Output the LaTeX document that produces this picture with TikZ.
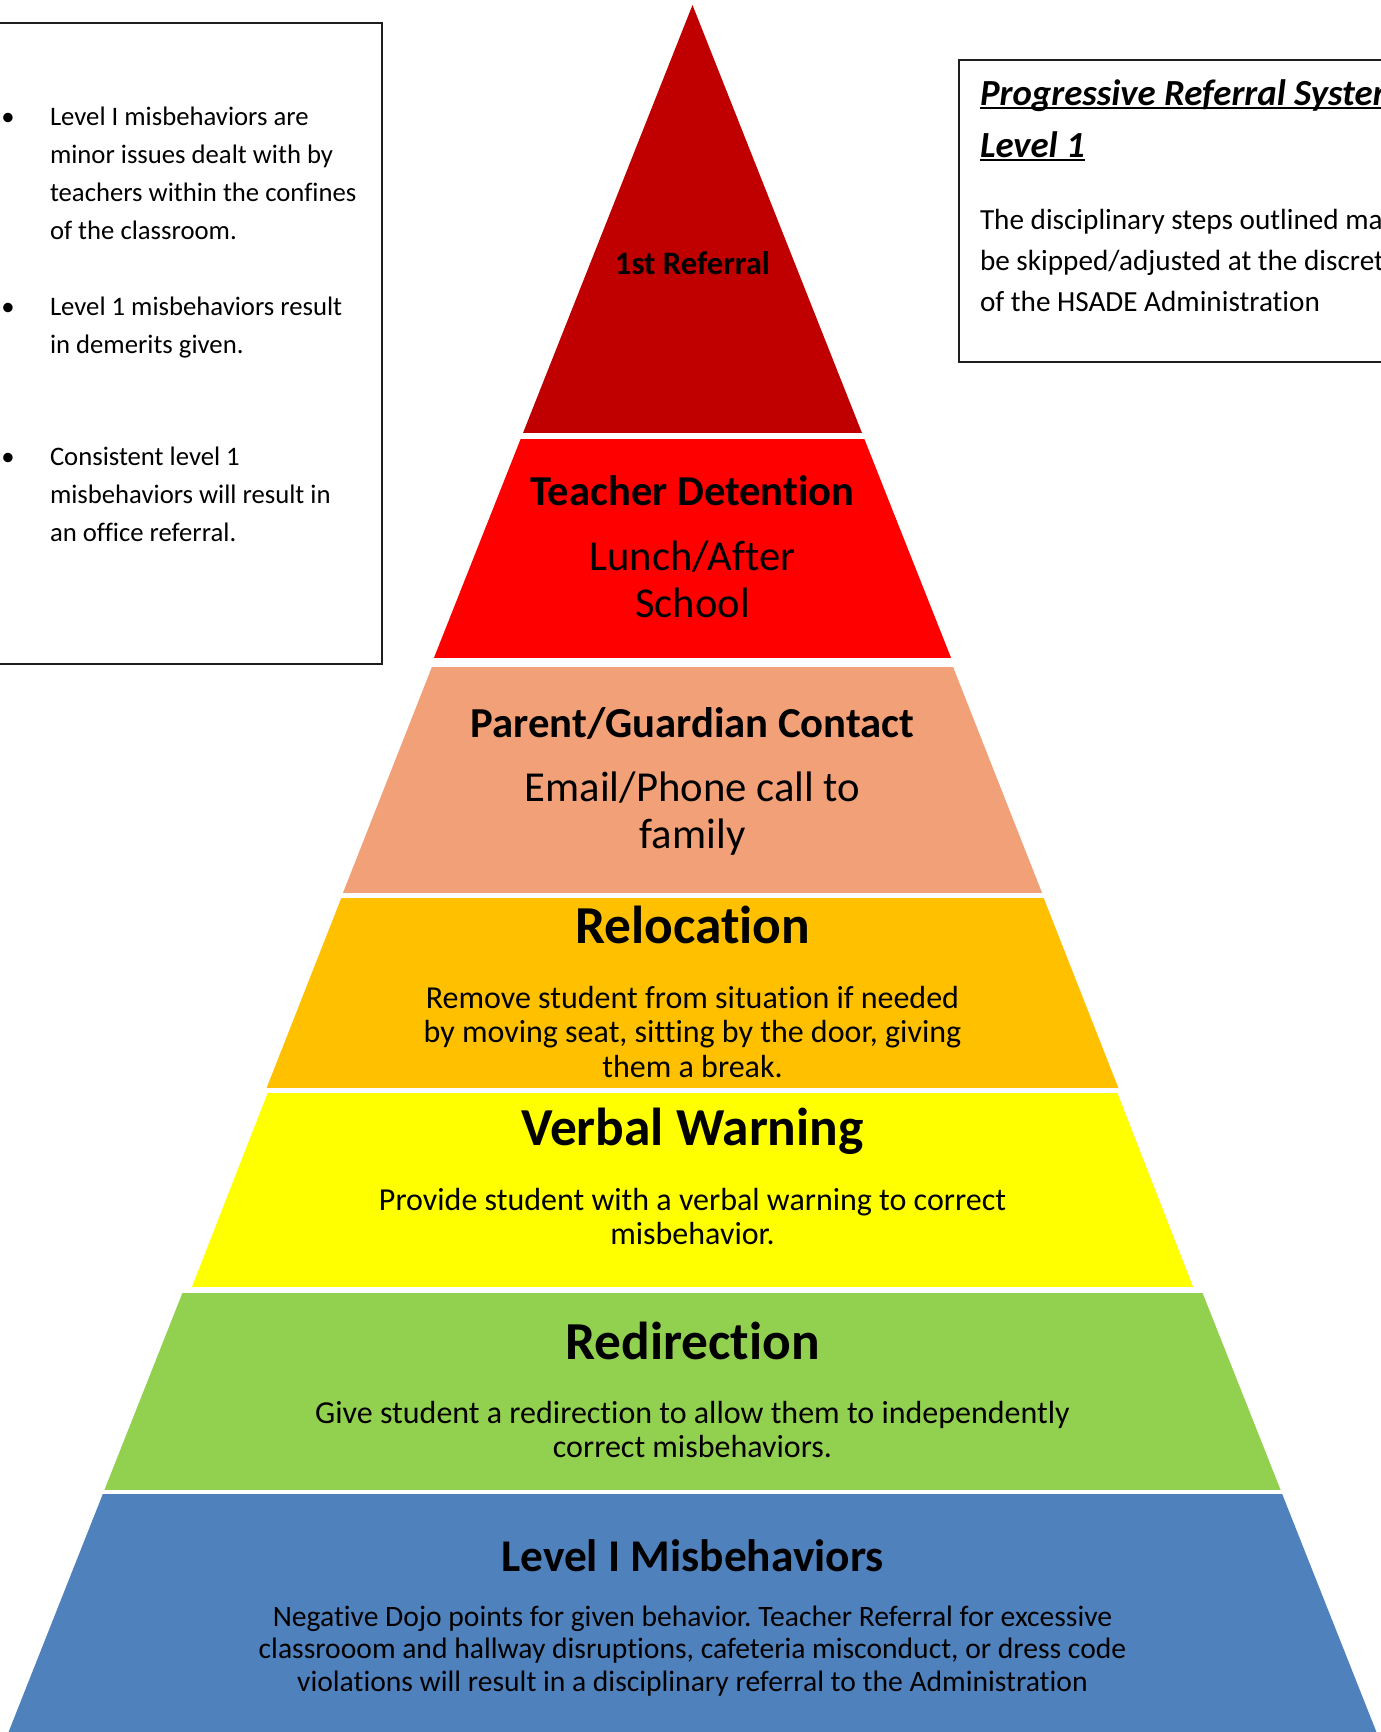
\documentclass[tikz,border=0pt]{standalone}
\usepackage{fontspec}
\setmainfont{Carlito}[Ligatures={NoCommon}]
\frenchspacing
\newcommand\fsz[2]{\fontsize{#1}{#2}\selectfont}
\definecolor{lvA}{HTML}{C00000}
\definecolor{lvB}{HTML}{FF0000}
\definecolor{lvC}{HTML}{F2A077}
\definecolor{lvD}{HTML}{FFC000}
\definecolor{lvE}{HTML}{FFFF00}
\definecolor{lvF}{HTML}{92D050}
\definecolor{lvG}{HTML}{4F81BD}
\definecolor{frame}{HTML}{1E1E1E}
\begin{document}
\begin{tikzpicture}[x=1pt,y=-1pt,
  every node/.style={inner sep=0pt,outer sep=0pt,text=black},
  % multi-line nodes: the base anchor sits on the last line
  bandhead/.style={anchor=base,align=center,font=\bfseries},
  bandtext/.style={anchor=base,align=center},
  sidebox/.style={draw=frame,line width=1.8pt},
  bullettext/.style={anchor=base west,align=left,font=\fsz{26.7}{38}},
  bulletdot/.style={anchor=base,font=\fsz{26.7}{38}}]
\useasboundingbox (0,0) rectangle (1381,1732);
\clip (0,0) rectangle (1381,1732);
\fill[white] (0,0) rectangle (1381,1732);

% pyramid: one triangle cut into horizontal bands (slight per-band width factor)
\coordinate (apex) at (692.5,5);
\coordinate (bl) at (5.4,1740);
\coordinate (br) at (1379.6,1740);
\foreach \top/\bot/\col/\wf in {0/432/lvA/1, 439/657/lvB/1, 667/892/lvC/0.994,
                                898/1087/lvD/0.993, 1093/1286/lvE/0.986,
                                1293/1489/lvF/1, 1494/1740/lvG/1}{
  \begin{scope}
    \clip (0,\top) rectangle (1381,\bot);
    \begin{scope}[shift={(692.5,0)},xscale=\wf,shift={(-692.5,0)}]
      \fill[\col] (692.5,5) -- (5.4,1740) -- (1379.6,1740) -- cycle;
    \end{scope}
  \end{scope}
}

% band labels
\node[bandhead,font=\fsz{32.7}{36}\bfseries] (ref) at (692.5,274) {1st Referral};

\node[bandhead,font=\fsz{42.6}{47}\bfseries] (det) at (692.5,505) {Teacher Detention};
\node[bandtext,font=\fsz{42.6}{47}] (detx) at (692.5,617) {Lunch/After\\School};

\node[bandhead,font=\fsz{42.7}{47}\bfseries] (par) at (692.5,737) {Parent/Guardian Contact};
\node[bandtext,font=\fsz{42.7}{47}] (parx) at (692.5,848) {Email/Phone call to\\family};

\node[bandhead,font=\fsz{53.4}{58}\bfseries] (rel) at (692.5,943) {Relocation};
\node[bandtext,font=\fsz{32}{34.6}] (relx) at (692.5,1077.2)
  {Remove student from situation if needed\\by moving seat, sitting by the door, giving\\them a break.};

\node[bandhead,font=\fsz{53.4}{58}\bfseries] (ver) at (692.5,1145) {Verbal Warning};
\node[bandtext,font=\fsz{32}{34.6}] (verx) at (692.5,1244.6)
  {Provide student with a verbal warning to correct\\misbehavior.};

\node[bandhead,font=\fsz{53.4}{58}\bfseries] (red) at (692.5,1359) {Redirection};
\node[bandtext,font=\fsz{32}{34.6}] (redx) at (692.5,1457.6)
  {Give student a redirection to allow them to independently\\correct misbehaviors.};

\node[bandhead,font=\fsz{45.4}{50}\bfseries] (lvl) at (692.5,1571) {Level I Misbehaviors};
\node[bandtext,font=\fsz{29.6}{32.6}] (lvlx) at (692.5,1691.2)
  {Negative Dojo points for given behavior. Teacher Referral for excessive\\classrooom and hallway disruptions, cafeteria misconduct, or dress code\\violations will result in a disciplinary referral to the Administration};

% left notes box
\draw[sidebox] (-10,23) rectangle (382,664);
\node[bulletdot] (b1) at (8,125) {•};
\node[bullettext] (n1) at (50,239)
  {Level I misbehaviors are\\minor issues dealt with by\\teachers within the confines\\of the classroom.};
\node[bulletdot] (b2) at (8,315) {•};
\node[bullettext] (n2) at (50,353) {Level 1 misbehaviors result\\in demerits given.};
\node[bulletdot] (b3) at (8,465) {•};
\node[bullettext] (n3) at (50,541)
  {Consistent level 1\\misbehaviors will result in\\an office referral.};

% right notes box
\draw[sidebox] (959,60) rectangle (1400,362);
\node[anchor=base west,font=\fsz{36.8}{52}\bfseries\itshape] (t1) at (980,105) {Progressive Referral System};
\node[anchor=base west,font=\fsz{36.8}{52}\bfseries\itshape] (t2) at (980,157) {Level 1};
\draw[line width=2.3pt] ([yshift=-3.3pt]t1.base west) -- ([yshift=-3.3pt]t1.base east);
\draw[line width=2.3pt] ([yshift=-3.3pt]t2.base west) -- ([yshift=-3.3pt]t2.base east);
\node[anchor=base west,align=left,font=\fsz{29.2}{41.3}] (note) at (980,311.6)
  {The disciplinary steps outlined may\\be skipped/adjusted at the discretion\\of the HSADE Administration};
\end{tikzpicture}
\end{document}
